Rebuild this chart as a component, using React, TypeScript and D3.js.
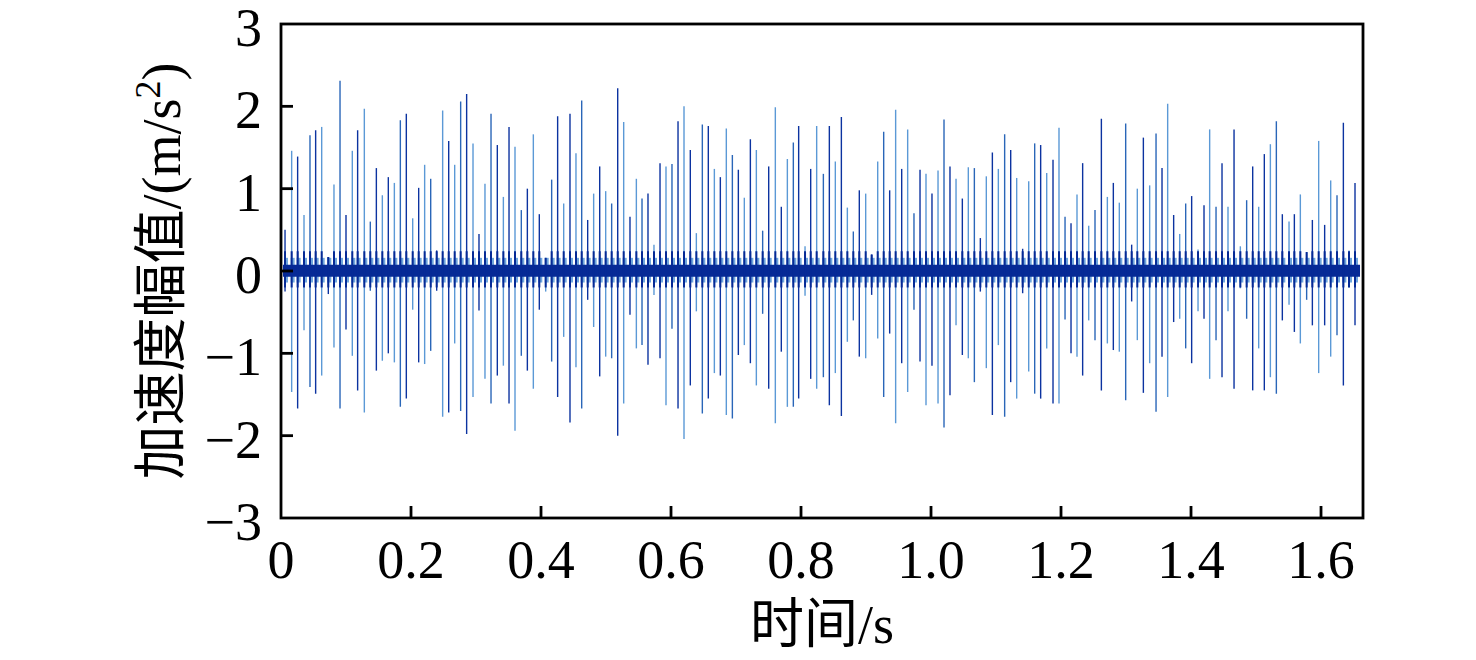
import React from "react";
import * as d3 from "d3";

// ---- data ----
const spikeTimes = [
  0.0062, 0.0164, 0.0256, 0.0354, 0.0446, 0.0533, 0.0626, 0.0728, 0.0815, 0.0908,
  0.1000, 0.1097, 0.1179, 0.1282, 0.1374, 0.1467, 0.1559, 0.1651, 0.1744, 0.1836,
  0.1928, 0.2026, 0.2118, 0.2210, 0.2303, 0.2395, 0.2487, 0.2580, 0.2672, 0.2764,
  0.2856, 0.2954, 0.3046, 0.3138, 0.3231, 0.3328, 0.3421, 0.3508, 0.3600, 0.3697,
  0.3790, 0.3882, 0.3974,
  0.4072, 0.4164, 0.4256, 0.4349, 0.4446, 0.4538, 0.4626, 0.4718, 0.4810, 0.4903,
  0.4995, 0.5087, 0.5180, 0.5272, 0.5369, 0.5467, 0.5554, 0.5646, 0.5738, 0.5831,
  0.5923, 0.6015, 0.6108, 0.6200, 0.6297, 0.6390, 0.6482, 0.6574, 0.6667, 0.6759,
  0.6851, 0.6944, 0.7036, 0.7128, 0.7221, 0.7313, 0.7410, 0.7503, 0.7605, 0.7697,
  0.7790, 0.7882, 0.7964, 0.8062, 0.8149, 0.8241,
  0.8344, 0.8436, 0.8528, 0.8621, 0.8713, 0.8805, 0.8897, 0.8995, 0.9087, 0.9180,
  0.9272, 0.9364, 0.9456, 0.9549, 0.9641, 0.9738, 0.9831, 0.9923, 1.0015, 1.0108,
  1.0200, 1.0292, 1.0385, 1.0482, 1.0574, 1.0667, 1.0759, 1.0851, 1.0944, 1.1036,
  1.1133, 1.1226, 1.1318, 1.1410, 1.1503, 1.1595, 1.1687, 1.1780, 1.1877, 1.1969,
  1.2062, 1.2154, 1.2246,
  1.2333, 1.2426, 1.2523, 1.2621, 1.2713, 1.2805, 1.2897, 1.2995, 1.3087, 1.3174,
  1.3267, 1.3364, 1.3462, 1.3554, 1.3641, 1.3733, 1.3826, 1.3918, 1.4010, 1.4108,
  1.4200, 1.4287, 1.4385, 1.4477, 1.4569, 1.4662, 1.4759, 1.4856, 1.4949, 1.5041,
  1.5128, 1.5221, 1.5313, 1.5405, 1.5508, 1.5590, 1.5682, 1.5779, 1.5867, 1.5964,
  1.6056, 1.6149, 1.6246, 1.6344, 1.6431, 1.6523,
];

const spikePos = [
  0.50, 1.46, 1.39, 0.68, 1.65, 1.71, 1.75, 0.17, 1.05, 2.31,
  0.68, 1.46, 1.71, 1.97, 0.60, 1.25, 0.92, 1.14, 1.07, 1.83,
  1.91, 0.64, 1.01, 1.29, 1.12, 0.25, 1.95, 1.58, 1.29, 2.06,
  2.15, 1.55, 0.45, 1.06, 1.91, 1.53, 0.90, 1.75, 1.51, 0.74,
  1.00, 1.66, 0.69,
  0.16, 1.11, 1.88, 0.82, 1.91, 1.43, 2.07, 0.62, 0.94, 1.27,
  0.97, 0.82, 2.22, 1.81, 0.66, 1.12, 0.88, 0.94, 0.32, 1.31,
  1.27, 1.30, 1.82, 2.00, 1.47, 0.46, 1.78, 1.76, 1.24, 1.14,
  1.73, 1.41, 1.23, 0.89, 1.60, 1.47, 0.49, 1.27, 1.99, 0.78,
  1.36, 1.56, 1.76, 0.30, 1.24, 1.76,
  1.18, 1.76, 1.33, 1.87, 0.77, 0.48, 0.98, 0.94, 0.20, 1.33,
  1.69, 0.98, 1.96, 1.24, 1.72, 0.70, 1.23, 1.18, 0.94, 1.22,
  1.84, 1.27, 1.12, 0.88, 1.26, 1.25, 0.40, 1.15, 1.44, 1.24,
  1.66, 1.47, 1.13, 0.27, 1.09, 1.55, 1.53, 1.19, 1.35, 1.74,
  0.66, 0.58, 0.93,
  1.31, 0.55, 0.74, 1.85, 0.90, 1.07, 0.83, 1.79, 0.32, 1.00,
  1.62, 1.04, 1.67, 1.25, 2.03, 0.68, 0.45, 0.82, 0.91, 0.26,
  0.80, 1.72, 0.78, 1.31, 0.78, 1.72, 0.30, 0.86, 1.27, 0.78,
  1.42, 1.54, 1.82, 0.69, 0.60, 0.69, 0.93, 0.23, 0.62, 1.58,
  0.56, 1.10, 0.92, 1.80, 0.25, 1.07,
];

const spikeNeg = [
  -0.25, -1.47, -1.67, -0.72, -1.41, -1.49, -1.27, -0.28, -0.93, -1.67,
  -0.71, -1.03, -1.45, -1.72, -0.24, -1.21, -1.09, -1.00, -1.11, -1.65,
  -1.55, -0.47, -1.11, -1.13, -0.97, -0.24, -1.77, -1.72, -0.88, -1.70,
  -1.98, -1.53, -0.48, -1.31, -1.61, -1.27, -1.15, -1.61, -1.94, -1.03,
  -1.21, -1.43, -0.47,
  -0.25, -1.10, -1.53, -0.80, -1.84, -1.17, -1.67, -0.35, -0.68, -1.28,
  -1.04, -1.06, -2.00, -1.61, -0.53, -0.94, -0.90, -1.14, -0.29, -1.06,
  -1.63, -0.70, -1.67, -2.04, -1.39, -0.49, -1.73, -1.55, -1.24, -1.27,
  -1.75, -1.79, -1.02, -0.90, -1.12, -1.39, -0.52, -1.43, -1.85, -0.98,
  -1.65, -1.65, -1.55, -0.30, -1.31, -1.43,
  -1.29, -1.63, -1.24, -1.76, -0.86, -0.60, -1.04, -1.06, -0.29, -0.82,
  -1.53, -0.76, -1.85, -1.12, -1.47, -0.47, -1.10, -1.63, -1.15, -1.61,
  -1.90, -1.51, -0.66, -1.02, -1.06, -1.35, -0.25, -1.18, -1.75, -0.90,
  -1.77, -1.35, -1.55, -0.27, -1.22, -1.49, -1.55, -0.94, -1.61, -1.61,
  -0.59, -1.00, -1.04,
  -1.27, -0.60, -0.84, -1.45, -0.88, -0.96, -0.98, -1.57, -0.37, -0.84,
  -1.48, -1.12, -1.71, -1.04, -1.53, -0.62, -0.58, -0.94, -1.12, -0.49,
  -0.58, -1.31, -0.84, -1.29, -0.49, -1.43, -0.21, -0.58, -1.45, -0.94,
  -1.45, -1.29, -1.49, -0.60, -0.41, -0.74, -0.88, -0.35, -0.66, -1.24,
  -0.66, -1.04, -0.78, -1.39, -0.20, -0.66,
];

// dense background vibration band around zero
const noiseBandTimes = [0.003, 1.66];
const noiseBand = [-0.07, 0.075];

const xTicks = [0, 0.2, 0.4, 0.6, 0.8, 1.0, 1.2, 1.4, 1.6];
const xTickLabels = ["0", "0.2", "0.4", "0.6", "0.8", "1.0", "1.2", "1.4", "1.6"];
const yTicks = [3, 2, 1, 0, -1, -2, -3];
const yTickLabels = ["3", "2", "1", "0", "\u22121", "\u22122", "\u22123"];

const xDomain = [0, 1.6646];
const yDomain = [-3, 3];

export default function App() {
  const W = 1476;
  const H = 660;
  const left = 281, right = 1363, top = 24, bottom = 518;
  const x = d3.scaleLinear().domain(xDomain).range([left, right]);
  const y = d3.scaleLinear().domain(yDomain).range([bottom, top]);

  const serif = "'Liberation Serif', 'Times New Roman', 'Noto Sans CJK SC', serif";
  const fs = 54;

  const band = d3
    .area<number>()
    .x((t) => x(t))
    .y0(() => y(noiseBand[0]))
    .y1(() => y(noiseBand[1]));

  const light = "#5b99d6";
  const dark = "#0c33a0";
  const mid = "#2a66b8";
  const navy = "#062a96";

  return (
    <svg
      width={W}
      height={H}
      style={{ position: "absolute", left: 0, top: 0, background: "#fff" }}
    >
      <rect x={0} y={0} width={W} height={H} fill="#fff" />

      {/* faint bursts around each impact */}
      <g>
        {spikeTimes.map((t, i) => (
          <line
            key={"b" + i}
            x1={x(t) + 1}
            x2={x(t) + 1}
            y1={y(Math.min(spikePos[i], 0.16))}
            y2={y(Math.max(spikeNeg[i], -0.14))}
            stroke="#6fa6dc"
            strokeWidth={4}
          />
        ))}
      </g>

      {/* spikes */}
      <g>
        {spikeTimes.map((t, i) => {
          const k = i % 5;
          const c = k === 1 || k === 3 ? light : k === 4 ? mid : dark;
          return (
            <line
              key={"s" + i}
              x1={x(t)}
              x2={x(t)}
              y1={y(spikePos[i])}
              y2={y(spikeNeg[i])}
              stroke={c}
              strokeWidth={1.4}
            />
          );
        })}
      </g>
      {/* baseline band */}
      <path d={band(noiseBandTimes) || ""} fill={navy} />
      {/* ringing core of each impact */}
      <g>
        {spikeTimes.map((t, i) => (
          <line
            key={"c" + i}
            x1={x(t)}
            x2={x(t)}
            y1={y(Math.min(spikePos[i], 0.24))}
            y2={y(Math.max(spikeNeg[i], -0.2))}
            stroke={navy}
            strokeWidth={2}
          />
        ))}
      </g>

      {/* frame */}
      <rect
        x={left}
        y={top}
        width={right - left}
        height={bottom - top}
        fill="none"
        stroke="#000"
        strokeWidth={2.8}
      />

      {/* x ticks */}
      {xTicks.map((v, i) => (
        <g key={"xt" + i}>
          {i > 0 && (
            <line x1={x(v)} x2={x(v)} y1={bottom} y2={bottom - 12} stroke="#000" strokeWidth={2.8} />
          )}
          <text
            x={x(v)}
            y={578}
            textAnchor="middle"
            fontFamily={serif}
            fontSize={fs}
            fill="#000"
          >
            {xTickLabels[i]}
          </text>
        </g>
      ))}

      {/* y ticks */}
      {yTicks.map((v, i) => (
        <g key={"yt" + i}>
          {v !== 3 && v !== -3 && (
            <line x1={left} x2={left + 12} y1={y(v)} y2={y(v)} stroke="#000" strokeWidth={2.8} />
          )}
          <text
            x={262}
            y={y(v) + 22}
            textAnchor="end"
            fontFamily={serif}
            fontSize={fs}
            fill="#000"
          >
            {yTickLabels[i]}
          </text>
        </g>
      ))}

      {/* x title */}
      <text
        x={(left + right) / 2}
        y={643}
        textAnchor="middle"
        fontFamily={serif}
        fontSize={fs}
        fill="#000"
      >
        时间/s
      </text>

      {/* y title */}
      <text
        transform={`translate(180,${(top + bottom) / 2}) rotate(-90)`}
        textAnchor="middle"
        fontFamily={serif}
        fontSize={fs}
        fill="#000"
      >
        加速度幅值/(m/s
        <tspan fontSize={36} dy={-20}>
          2
        </tspan>
        <tspan dy={20}>)</tspan>
      </text>
    </svg>
  );
}
